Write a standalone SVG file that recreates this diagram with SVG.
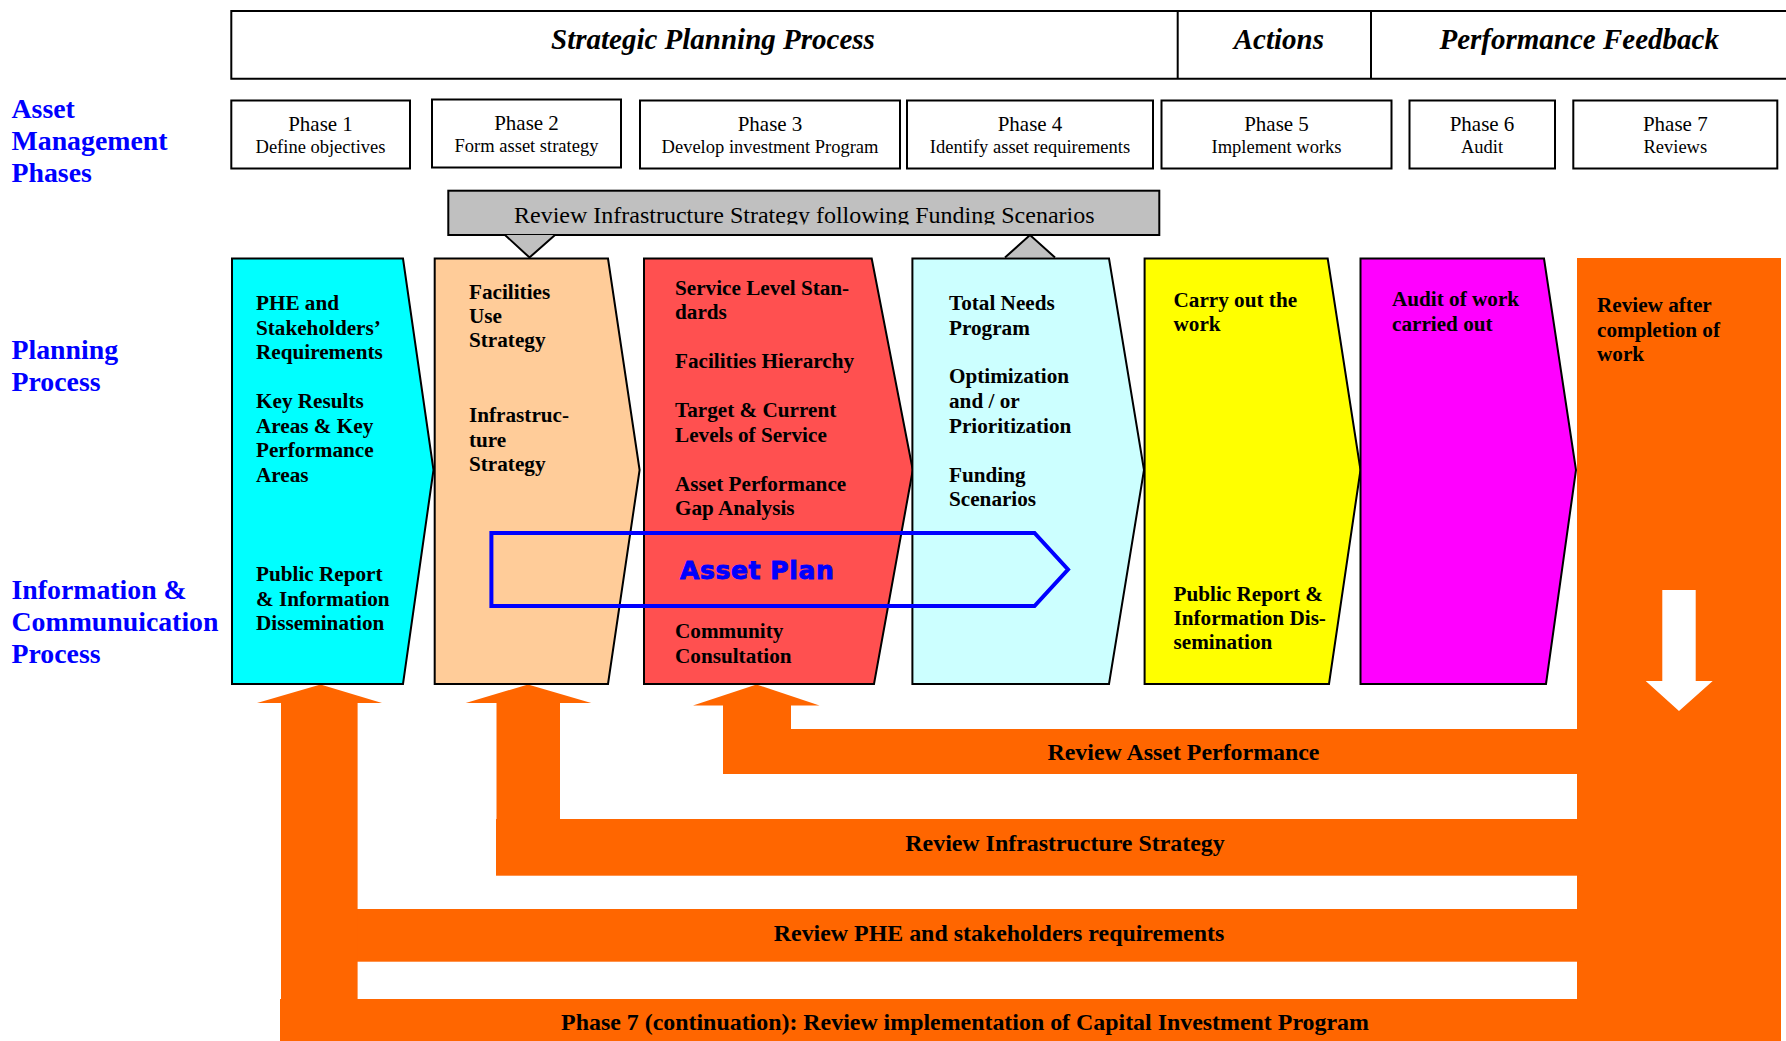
<svg xmlns="http://www.w3.org/2000/svg" width="1786" height="1041" viewBox="0 0 1786 1041">
  <defs>
    <style>
      .serif { font-family: "Liberation Serif", "Times New Roman", serif; }
      .hdr { font-family: "Liberation Serif", "Times New Roman", serif; font-size: 29px; font-weight: bold; font-style: italic; fill: #000; }
      .side { font-family: "Liberation Serif", "Times New Roman", serif; font-size: 27.8px; font-weight: bold; fill: #0000FF; }
      .box { fill: #fff; stroke: #000; stroke-width: 2; }
      .ph { font-family: "Liberation Serif", "Times New Roman", serif; font-size: 21px; fill: #000; text-anchor: middle; }
      .phd { font-family: "Liberation Serif", "Times New Roman", serif; font-size: 18.5px; fill: #000; text-anchor: middle; }
      .stage { stroke: #000; stroke-width: 2; stroke-linejoin: miter; }
      .st { font-family: "Liberation Serif", "Times New Roman", serif; font-size: 21.2px; font-weight: bold; fill: #000; }
      .band { fill: #FF6600; }
      .bt { font-family: "Liberation Serif", "Times New Roman", serif; font-size: 23.9px; font-weight: bold; fill: #000; text-anchor: middle; }
    </style>
    <clipPath id="reviewClip">
      <rect x="449" y="192" width="710" height="32.5"/>
    </clipPath>
  </defs>

  <rect width="1786" height="1041" fill="#fff"/>

  <!-- Header band: planning / actions / feedback -->
  <g id="header">
    <path d="M1786 11 H231.3 V78.7 H1786 M1177.7 11 V78.7 M1371 11 V78.7" fill="none" stroke="#000" stroke-width="2"/>
    <text class="hdr" x="551" y="48.5">Strategic Planning Process</text>
    <text class="hdr" x="1233.7" y="48.5">Actions</text>
    <text class="hdr" x="1439.5" y="48.5">Performance Feedback</text>
  </g>

  <!-- Row titles -->
  <g id="row-labels">
    <text class="side" x="11.5" y="118">Asset</text>
    <text class="side" x="11.5" y="150">Management</text>
    <text class="side" x="11.5" y="182">Phases</text>
    <text class="side" x="11.5" y="359">Planning</text>
    <text class="side" x="11.5" y="391">Process</text>
    <text class="side" x="11.5" y="599">Information &amp;</text>
    <text class="side" x="11.5" y="631">Communuication</text>
    <text class="side" x="11.5" y="663">Process</text>
  </g>

  <!-- Phase boxes -->
  <g id="phase-1">
    <rect class="box" x="231.3" y="100.5" width="178.7" height="68"/>
    <text class="ph" x="320.5" y="130.7">Phase 1</text>
    <text class="phd" x="320.5" y="152.5">Define objectives</text>
  </g>
  <g id="phase-2">
    <rect class="box" x="432" y="99.5" width="189" height="68"/>
    <text class="ph" x="526.5" y="130">Phase 2</text>
    <text class="phd" x="526.5" y="151.8">Form asset strategy</text>
  </g>
  <g id="phase-3">
    <rect class="box" x="640" y="100.5" width="260" height="68"/>
    <text class="ph" x="770" y="130.7">Phase 3</text>
    <text class="phd" x="770" y="152.5">Develop investment Program</text>
  </g>
  <g id="phase-4">
    <rect class="box" x="907" y="100.5" width="246" height="68"/>
    <text class="ph" x="1030" y="130.7">Phase 4</text>
    <text class="phd" x="1030" y="152.5">Identify asset requirements</text>
  </g>
  <g id="phase-5">
    <rect class="box" x="1161.5" y="100.5" width="230" height="68"/>
    <text class="ph" x="1276.5" y="130.7">Phase 5</text>
    <text class="phd" x="1276.5" y="152.5">Implement works</text>
  </g>
  <g id="phase-6">
    <rect class="box" x="1409.5" y="100.5" width="145.5" height="68"/>
    <text class="ph" x="1482" y="130.7">Phase 6</text>
    <text class="phd" x="1482" y="152.5">Audit</text>
  </g>
  <g id="phase-7">
    <rect class="box" x="1573.3" y="100.5" width="204" height="68"/>
    <text class="ph" x="1675.3" y="130.7">Phase 7</text>
    <text class="phd" x="1675.3" y="152.5">Reviews</text>
  </g>

  <!-- Funding review callout -->
  <g id="funding-review">
    <rect x="448.3" y="190.7" width="711" height="44.3" fill="#C0C0C0" stroke="#000" stroke-width="2"/>
    <polygon points="505,235 555,235 529.5,257.5" fill="#C0C0C0"/>
    <polyline points="505,235 529.5,257.5 555,235" fill="none" stroke="#000" stroke-width="2"/>
    <polygon points="1005,257.5 1030,235 1055,257.5" fill="#C0C0C0"/>
    <polyline points="1005,257.5 1030,235 1055,257.5" fill="none" stroke="#000" stroke-width="2"/>
    <text class="serif" x="514" y="222.7" font-size="24" fill="#000" clip-path="url(#reviewClip)">Review Infrastructure Strategy following Funding Scenarios</text>
  </g>

  <!-- Feedback loops -->
  <g id="connectors">
    <rect id="review-column" class="band" x="1577" y="258" width="204" height="783"/>
    <!-- loop to Phase 3 -->
    <rect class="band" x="723" y="729" width="860" height="45"/>
    <rect class="band" x="723" y="705" width="68" height="30"/>
    <polygon class="band" points="693,705.5 756.5,684.5 819.5,705.5"/>
    <!-- loop to Phase 2 -->
    <rect class="band" x="496" y="819" width="1087" height="56.7"/>
    <rect class="band" x="496.5" y="702" width="63.5" height="122"/>
    <polygon class="band" points="465.7,703 528,684.5 591.3,703"/>
    <!-- loop to Phase 1 -->
    <rect class="band" x="357" y="909" width="1226" height="52.7"/>
    <rect class="band" x="281" y="702" width="76.6" height="300"/>
    <polygon class="band" points="257,703 320.5,684.5 382,703"/>
    <!-- capital program review -->
    <rect class="band" x="280" y="999" width="1303" height="42"/>
    <!-- downward flow inside review column -->
    <polygon points="1662.3,590 1695.7,590 1695.7,681 1712.7,681 1679,711 1645.7,681 1662.3,681" fill="#fff"/>

    <text class="bt" x="1183.5" y="760">Review Asset Performance</text>
    <text class="bt" x="1065" y="851">Review Infrastructure Strategy</text>
    <text class="bt" x="999" y="941">Review PHE and stakeholders requirements</text>
    <text class="bt" x="965" y="1030">Phase 7 (continuation): Review implementation of Capital Investment Program</text>
  </g>

  <!-- Stage chevrons -->
  <g id="stage-1">
    <polygon class="stage" fill="#00FFFF" points="232,258.5 403,258.5 433.5,470 403,684 232,684"/>
    <text class="st" x="256" y="310">PHE and</text>
    <text class="st" x="256" y="334.5">Stakeholders’</text>
    <text class="st" x="256" y="359">Requirements</text>
    <text class="st" x="256" y="408">Key Results</text>
    <text class="st" x="256" y="432.5">Areas &amp; Key</text>
    <text class="st" x="256" y="457">Performance</text>
    <text class="st" x="256" y="481.5">Areas</text>
    <text class="st" x="256" y="581">Public Report</text>
    <text class="st" x="256" y="605.5">&amp; Information</text>
    <text class="st" x="256" y="630">Dissemination</text>
  </g>
  <g id="stage-2">
    <polygon class="stage" fill="#FFCC99" points="434.7,258.5 608,258.5 639.6,470 608,684 434.7,684"/>
    <text class="st" x="469" y="299">Facilities</text>
    <text class="st" x="469" y="323">Use</text>
    <text class="st" x="469" y="347">Strategy</text>
    <text class="st" x="469" y="422">Infrastruc-</text>
    <text class="st" x="469" y="447">ture</text>
    <text class="st" x="469" y="471">Strategy</text>
  </g>
  <g id="stage-3">
    <polygon class="stage" fill="#FF5050" points="644,258.5 871.7,258.5 912.8,470 874,684 644,684"/>
    <text class="st" x="675" y="295">Service Level Stan-</text>
    <text class="st" x="675" y="319">dards</text>
    <text class="st" x="675" y="368">Facilities Hierarchy</text>
    <text class="st" x="675" y="417">Target &amp; Current</text>
    <text class="st" x="675" y="442">Levels of Service</text>
    <text class="st" x="675" y="491">Asset Performance</text>
    <text class="st" x="675" y="515">Gap Analysis</text>
    <text class="st" x="675" y="638">Community</text>
    <text class="st" x="675" y="663">Consultation</text>
  </g>
  <g id="stage-4">
    <polygon class="stage" fill="#CCFFFF" points="912.4,258.5 1109,258.5 1144,470 1109,684 912.4,684"/>
    <text class="st" x="949" y="310">Total Needs</text>
    <text class="st" x="949" y="335">Program</text>
    <text class="st" x="949" y="383">Optimization</text>
    <text class="st" x="949" y="408">and / or</text>
    <text class="st" x="949" y="433">Prioritization</text>
    <text class="st" x="949" y="482">Funding</text>
    <text class="st" x="949" y="506">Scenarios</text>
  </g>
  <g id="stage-5">
    <polygon class="stage" fill="#FFFF00" points="1144.6,258.5 1327.7,258.5 1360.5,470 1329,684 1144.6,684"/>
    <text class="st" x="1173.5" y="307">Carry out the</text>
    <text class="st" x="1173.5" y="331">work</text>
    <text class="st" x="1173.5" y="601">Public Report &amp;</text>
    <text class="st" x="1173.5" y="625">Information Dis-</text>
    <text class="st" x="1173.5" y="649">semination</text>
  </g>
  <g id="stage-6">
    <polygon class="stage" fill="#FF00FF" points="1360.5,258.5 1544,258.5 1576,470 1546,684 1360.5,684"/>
    <text class="st" x="1392" y="306">Audit of work</text>
    <text class="st" x="1392" y="331">carried out</text>
  </g>
  <g id="stage-7">
    <text class="st" x="1597" y="312">Review after</text>
    <text class="st" x="1597" y="337">completion of</text>
    <text class="st" x="1597" y="361">work</text>
  </g>

  <!-- Asset plan outline spanning phases 2 to 4 -->
  <g id="asset-plan">
    <polygon points="491.4,533 1034.5,533 1068,569.5 1034.5,606 491.4,606" fill="none" stroke="#0000FF" stroke-width="4"/>
    <text x="680" y="579" font-family="'DejaVu Sans', 'Liberation Sans', sans-serif" font-size="25" font-weight="bold" letter-spacing="0.6" fill="#0000FF" stroke="#0000FF" stroke-width="0.9">Asset Plan</text>
  </g>
</svg>
